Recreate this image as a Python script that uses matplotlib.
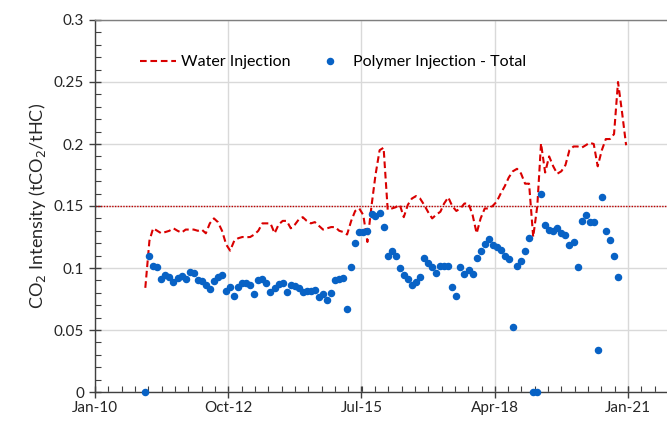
import matplotlib.pyplot as plt
import matplotlib.dates as mdates
import matplotlib.ticker as mticker
import numpy as np
import pandas as pd

plt.rcParams['font.family'] = ['Lato', 'DejaVu Sans']

# monthly data, first month Dec-2010
polymer_start = '2010-12-15'
polymer_total = [
    0.0,
    0.110, 0.102, 0.1005, 0.0914, 0.094, 0.093, 0.0887, 0.0916, 0.0932, 0.091, 0.0965, 0.0962,
    0.0903, 0.0895, 0.0863, 0.0833, 0.0895, 0.093, 0.094, 0.0815, 0.0847, 0.0774, 0.0847, 0.0879,
    0.0879, 0.0865, 0.079, 0.0906, 0.0914, 0.0876, 0.0804, 0.0842, 0.0874, 0.0879, 0.0804, 0.086,
    0.0851, 0.0836, 0.081, 0.0812, 0.0817, 0.0825, 0.077, 0.079, 0.0745, 0.0798, 0.0903, 0.0908,
    0.0916, 0.0667, 0.1008, 0.1204, 0.1288, 0.1293, 0.1298, 0.1435, 0.142, 0.1446, 0.1333, 0.110,
    0.114, 0.110, 0.100, 0.0946, 0.0908, 0.086, 0.0887, 0.093, 0.108, 0.1043, 0.1008, 0.0962,
    0.1016, 0.1016, 0.1019, 0.0847, 0.0774, 0.1008, 0.0954, 0.0984, 0.0952, 0.1078, 0.1134, 0.1196,
    0.1231, 0.1183, 0.1172, 0.1145, 0.110, 0.107, 0.0527, 0.1016, 0.1056, 0.114, 0.1242, 0.0,
    0.0, 0.160, 0.1344, 0.131, 0.130, 0.132, 0.128, 0.1269, 0.1183, 0.121, 0.1008, 0.1382,
    0.1427, 0.1374, 0.1374, 0.0339, 0.1576, 0.1296, 0.1226, 0.1094, 0.0925,
]

water_start = '2010-12-15'
water_injection = [
    0.084,
    0.122, 0.132, 0.130, 0.128, 0.129, 0.130, 0.132, 0.130, 0.1285, 0.131, 0.131, 0.131,
    0.130, 0.131, 0.128, 0.136, 0.140, 0.137, 0.130, 0.119, 0.114, 0.122, 0.124, 0.125,
    0.1248, 0.125, 0.127, 0.130, 0.136, 0.136, 0.136, 0.128, 0.135, 0.138, 0.138, 0.132,
    0.135, 0.139, 0.141, 0.138, 0.136, 0.137, 0.134, 0.131, 0.132, 0.133, 0.133, 0.130,
    0.129, 0.127, 0.138, 0.146, 0.148, 0.1427, 0.121, 0.150, 0.175, 0.195, 0.197, 0.147,
    0.148, 0.149, 0.151, 0.141, 0.151, 0.156, 0.158, 0.156, 0.151, 0.145, 0.140, 0.143,
    0.1454, 0.152, 0.157, 0.150, 0.146, 0.148, 0.152, 0.152, 0.143, 0.128, 0.140, 0.148,
    0.148, 0.150, 0.1535, 0.160, 0.166, 0.173, 0.178, 0.180, 0.1763, 0.168, 0.168, 0.125,
    0.150, 0.2005, 0.177, 0.190, 0.182, 0.176, 0.178, 0.183, 0.195, 0.198, 0.198, 0.197,
    0.199, 0.201, 0.200, 0.182, 0.195, 0.204, 0.204, 0.208, 0.250, 0.225, 0.199,
]

threshold = 0.15

polymer_dates = pd.date_range(polymer_start, periods=len(polymer_total), freq='MS') + pd.Timedelta(days=14)
water_dates = pd.date_range(water_start, periods=len(water_injection), freq='MS') + pd.Timedelta(days=14)

fig = plt.figure(figsize=(6.67, 4.24), dpi=100)
ax = fig.add_axes([95/667, 32/424, 572/667, 372/424])

ax.plot(water_dates, water_injection, color='#d90000', lw=1.5,
        dashes=(3.2, 1.8), label='Water Injection', zorder=3)
ax.plot(polymer_dates, polymer_total, 'o', color='#0862c5', ms=4.4,
        label='Polymer Injection - Total', clip_on=False, zorder=4)
ax.axhline(threshold, color='#c00000', lw=1.0, ls=(0, (1, 1)), zorder=2)

# osie
x0 = pd.Timestamp('2010-01-01')
x1 = pd.Timestamp('2021-10-19')
ax.set_xlim(x0, x1)
ax.set_ylim(0, 0.3)

major = [pd.Timestamp(d) for d in ['2010-01-01', '2012-10-01', '2015-07-01', '2018-04-01', '2021-01-01']]
major_num = mdates.date2num(major)
step = (major_num[1] - major_num[0]) / 10
minor_num = np.arange(major_num[0], mdates.date2num(x1), step)
ax.xaxis.set_major_locator(mticker.FixedLocator(major_num))
ax.xaxis.set_minor_locator(mticker.FixedLocator(minor_num))
ax.xaxis.set_major_formatter(mdates.DateFormatter('%b-%y'))

ax.yaxis.set_major_locator(mticker.MultipleLocator(0.05))
ax.yaxis.set_minor_locator(mticker.MultipleLocator(0.01))
ax.yaxis.set_major_formatter(mticker.FuncFormatter(lambda v, p: '%g' % round(v, 3)))

ax.tick_params(which='major', direction='inout', length=9, width=1.0, color='#404040',
               labelsize=11, labelcolor='#262626')
ax.tick_params(which='minor', direction='in', length=4, width=0.8, color='#404040')
ax.tick_params(axis='x', which='major', pad=2)

ax.grid(True, which='major', color='#d9d9d9', lw=1.0, zorder=0)
ax.set_axisbelow(True)

for s in ['left', 'bottom', 'top']:
    ax.spines[s].set_color('#404040')
    ax.spines[s].set_linewidth(1.0)
ax.spines['top'].set_color('#7f7f7f')
ax.spines['right'].set_visible(False)

ax.set_ylabel('CO$_2$ Intensity (tCO$_2$/tHC)', fontsize=13, color='#262626', labelpad=4)

ax.legend(loc='center', bbox_to_anchor=(0.416, 0.887), ncol=2, frameon=False,
          fontsize=11.5, handlelength=2.3, handletextpad=0.3, columnspacing=1.3)

fig.savefig('out.png', dpi=100)
